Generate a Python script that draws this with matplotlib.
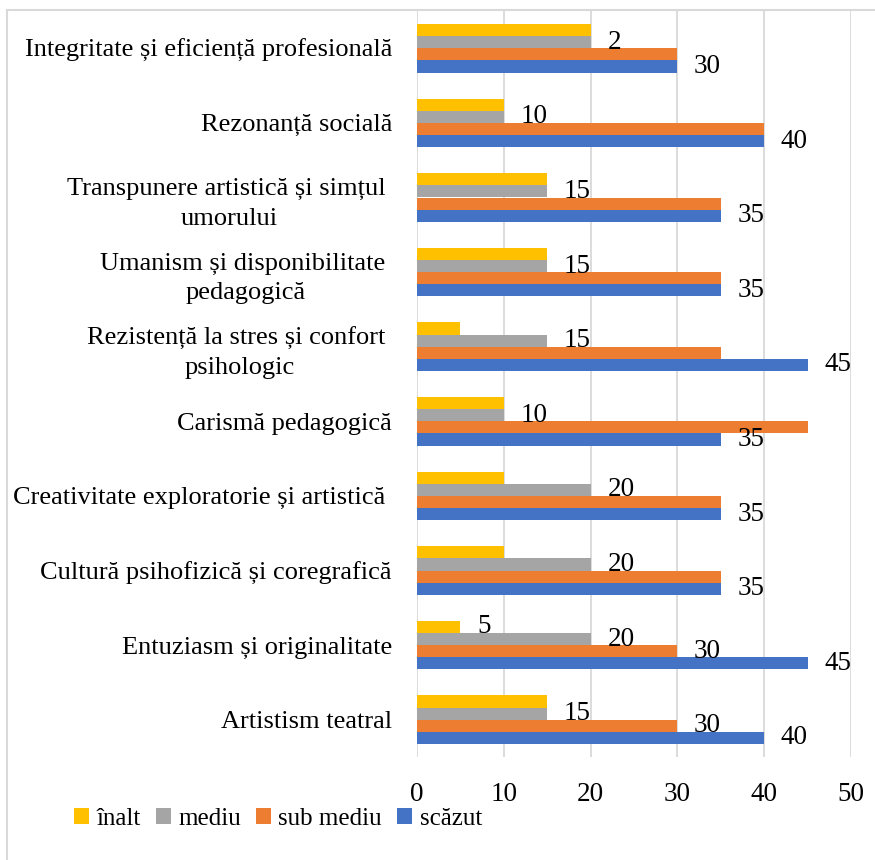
import matplotlib
matplotlib.use('Agg')
import matplotlib.pyplot as plt
from matplotlib.lines import Line2D
import numpy as np

# categories, top to bottom
categories = [
    'Integritate și eficiență profesională',
    'Rezonanță socială',
    'Transpunere artistică și simțul \numorului',
    'Umanism și disponibilitate \npedagogică',
    'Rezistență la stres și confort \npsihologic',
    'Carismă pedagogică',
    'Creativitate exploratorie și artistică ',
    'Cultură psihofizică și coregrafică',
    'Entuziasm și originalitate',
    'Artistism teatral',
]

series_names = ['înalt', 'mediu', 'sub mediu', 'scăzut']
inalt = [20, 10, 15, 15, 5, 10, 10, 10, 5, 15]
mediu = [20, 10, 15, 15, 15, 10, 20, 20, 20, 15]
sub_mediu = [30, 40, 35, 35, 35, 45, 35, 35, 30, 30]
scazut = [30, 40, 35, 35, 45, 35, 35, 35, 45, 40]

# data labels as they appear in the picture (None = not shown)
inalt_labels = [None, None, None, None, None, None, None, None, '5', None]
mediu_labels = ['2', '10', '15', '15', '15', '10', '20', '20', '20', '15']
sub_mediu_labels = [None, None, None, None, None, None, None, None, '30', '30']
scazut_labels = ['30', '40', '35', '35', '45', '35', '35', '35', '45', '40']

xticks = [0, 10, 20, 30, 40, 50]

colors = ['#FFC000', '#A5A5A5', '#ED7D31', '#4472C4']

plt.rcParams['font.family'] = ['Liberation Serif', 'DejaVu Serif']

W, H = 875, 860
fig = plt.figure(figsize=(W / 100, H / 100), dpi=100)
ax = fig.add_axes([417 / W, 1 - 757 / H, (851 - 417) / W, (757 - 11) / H])

y = np.arange(len(categories))
h = 0.163
all_vals = [inalt, mediu, sub_mediu, scazut]
all_labels = [inalt_labels, mediu_labels, sub_mediu_labels, scazut_labels]

for i, (vals, labs) in enumerate(zip(all_vals, all_labels)):
    pos = y + (i - 1.5) * h
    ax.barh(pos, vals, height=h, color=colors[i], label=series_names[i], zorder=3)
    for p, v, lab in zip(pos, vals, labs):
        if lab is None:
            continue
        ax.annotate(lab, (v, p), xytext=(12, 0), textcoords='offset points',
                    ha='left', va='center', fontsize=19.5, color='black',
                    annotation_clip=False, zorder=4)

ax.set_xlim(0, 50)
ax.set_ylim(len(categories) - 0.5, -0.5)
ax.set_xticks(xticks)
ax.set_yticks(y)
ax.set_yticklabels(categories)
for t in ax.get_yticklabels():
    t.set_multialignment('center')
    t.set_linespacing(1.45)
ax.tick_params(axis='y', length=0, pad=18, labelsize=19)
ax.tick_params(axis='x', length=0, pad=18, labelsize=19.5)
ax.grid(axis='x', color='#D9D9D9', linewidth=1.3, zorder=0)
for s in ax.spines.values():
    s.set_visible(False)

ax.legend(ncol=4, loc='center left', bbox_to_anchor=(74 / W, 1 - 819 / H),
          bbox_transform=fig.transFigure, frameon=False, fontsize=18,
          handlelength=0.6, handleheight=0.6, handletextpad=0.3,
          columnspacing=0.6, borderpad=0, borderaxespad=0)

# chart area border
fig.add_artist(Line2D([7 / W, 7 / W], [0, 1 - 10 / H], color='#D9D9D9', linewidth=1.5,
                      transform=fig.transFigure))
fig.add_artist(Line2D([7 / W, 1], [1 - 10 / H, 1 - 10 / H], color='#D9D9D9', linewidth=1.5,
                      transform=fig.transFigure))

fig.savefig('out.png', dpi=100)
